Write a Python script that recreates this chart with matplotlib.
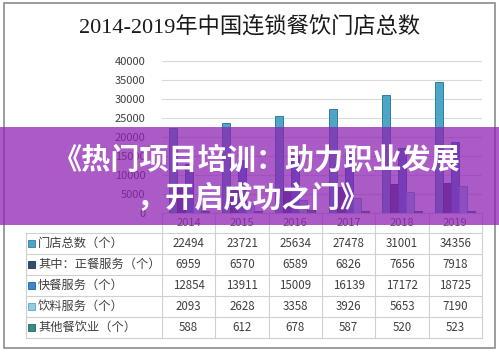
import matplotlib
matplotlib.use("Agg")
import matplotlib.pyplot as plt
from matplotlib.patches import Rectangle

plt.rcParams['font.family'] = ['Noto Sans CJK SC', 'DejaVu Sans']

years = ["2014", "2015", "2016", "2017", "2018", "2019"]
series_names = ["门店总数（个）", "其中：正餐服务（个）", "快餐服务（个）", "饮料服务（个）", "其他餐饮业（个）"]
total_stores = [22494, 23721, 25634, 27478, 31001, 34356]
dinner_service = [6959, 6570, 6589, 6826, 7656, 7918]
fast_food = [12854, 13911, 15009, 16139, 17172, 18725]
drink_service = [2093, 2628, 3358, 3926, 5653, 7190]
other_service = [588, 612, 678, 587, 520, 523]
y_ticks = [0, 5000, 10000, 15000, 20000, 25000, 30000, 35000, 40000]

all_series = [total_stores, dinner_service, fast_food, drink_service, other_service]
colors = ["#4fa6c4", "#2f4f72", "#3a86cf", "#8ccde8", "#3a8a7e"]
edges = ["#2f7f9c", "#1d3550", "#23619e", "#5aa6c6", "#23665c"]

W, H = 499, 352
fig = plt.figure(figsize=(W / 100, H / 100), dpi=100)

# background layer in pixel coords: frame, title, table
bg = fig.add_axes([0, 0, 1, 1])
bg.set_xlim(0, W)
bg.set_ylim(H, 0)
bg.axis("off")
bg.add_patch(Rectangle((4, 3), 491, 345, fill=False, edgecolor="#8c8c8c", linewidth=1.2))
bg.text(250, 28, "2014-2019年中国连锁餐饮门店总数", ha="center", va="center",
        fontsize=16, color="#1a1a1a", family=["Liberation Serif", "Noto Sans CJK SC"])

col_edges = [162 + i * 53.33 for i in range(7)]
row_edges = [233 + i * 20.9 for i in range(6)]
line_c = "#d0d0d0"
# header row (years)
for x in col_edges:
    bg.plot([x, x], [213, 338], color=line_c, linewidth=0.8)
bg.plot([26, 26], [233, 338], color=line_c, linewidth=0.8)
for y in row_edges:
    bg.plot([26, 482], [y, y], color=line_c, linewidth=0.8)
for i, yr in enumerate(years):
    bg.text((col_edges[i] + col_edges[i + 1]) / 2, 223, yr, ha="center", va="center",
            fontsize=8, color="#595959")
for r, name in enumerate(series_names):
    yc = (row_edges[r] + row_edges[r + 1]) / 2
    bg.add_patch(Rectangle((28, yc - 3.5), 7, 7, facecolor=colors[r], edgecolor=edges[r], linewidth=0.6))
    bg.text(38, yc, name, ha="left", va="center", fontsize=8.8, color="#404040")
    for i, v in enumerate(all_series[r]):
        bg.text((col_edges[i] + col_edges[i + 1]) / 2, yc, str(v), ha="center", va="center",
                fontsize=8.3, color="#404040")

# bar chart
ax = fig.add_axes([162 / W, 1 - 213 / H, 320 / W, 152 / H])
ax.patch.set_alpha(0)
bw = 0.15
offsets = [-0.3, -0.15, 0, 0.15, 0.3]
xs = list(range(len(years)))
for k, data in enumerate(all_series):
    ax.bar([x + offsets[k] for x in xs], data, width=bw, color=colors[k],
           edgecolor=edges[k], linewidth=0.7, zorder=3)
ax.set_xlim(-0.5, 5.5)
ax.set_ylim(0, 40000)
ax.set_yticks(y_ticks)
ax.set_yticklabels([str(t) for t in y_ticks])
ax.set_xticks([])
ax.grid(axis="y", color="#d9d9d9", linewidth=0.8, zorder=0)
for s in ["top", "right", "left"]:
    ax.spines[s].set_visible(False)
ax.spines["bottom"].set_color(line_c)
ax.tick_params(axis="y", length=0, pad=12, labelsize=8, labelcolor="#404040")

# purple banner on top
top = fig.add_axes([0, 0, 1, 1], zorder=10)
top.set_xlim(0, W)
top.set_ylim(H, 0)
top.axis("off")
top.patch.set_alpha(0)
top.add_patch(Rectangle((0, 127), W, 98, facecolor="#8e22b2", alpha=0.74, edgecolor="none"))
top.text(257, 160, "《热门项目培训：助力职业发展", ha="center", va="center",
         fontsize=21, fontweight="bold", color="white")
top.text(253, 198, "，开启成功之门》", ha="center", va="center",
         fontsize=21, fontweight="bold", color="white")

fig.savefig("out.png", dpi=100)
